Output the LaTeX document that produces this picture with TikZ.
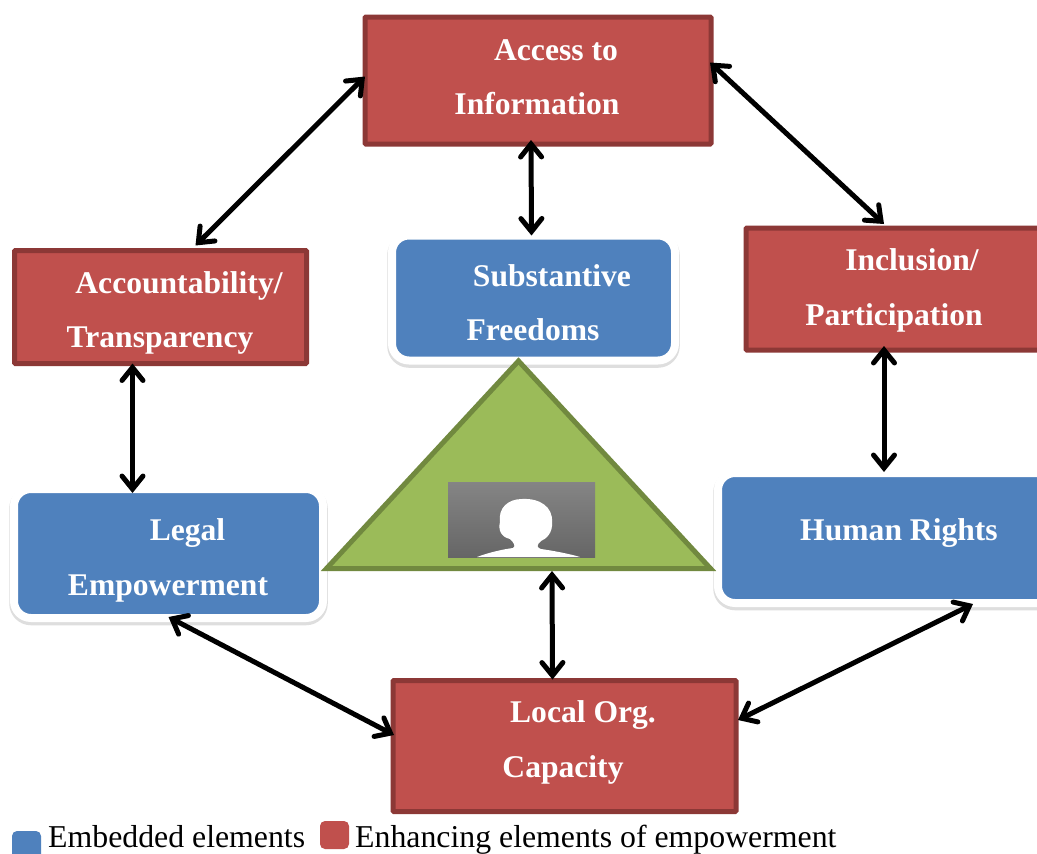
\documentclass[tikz,border=0pt]{standalone}
\usepackage{fontspec}
\setmainfont{Liberation Serif}
\usetikzlibrary{arrows.meta,calc}
\definecolor{redfill}{HTML}{C0504D}
\definecolor{redline}{HTML}{8C3836}
\definecolor{bluefill}{HTML}{4F81BD}
\definecolor{greenfill}{HTML}{9BBB59}
\definecolor{greenline}{HTML}{71893F}
% one line of text: horizontal offset (twice the shift), text, height of its baseline over the centre of the box
\newcommand{\boxline}[3]{\makebox[0pt][c]{\raisebox{#3pt}[0pt][0pt]{\hspace*{#1pt}#2}}}
\tikzset{
  boxtext/.style={text=white,font=\fontsize{31.6}{54}\selectfont\bfseries,inner sep=0pt,outer sep=0pt},
  redbox/.style={boxtext,rectangle,draw=redline,fill=redfill,line width=5pt,rounded corners=1pt},
  bluebox/.style={boxtext,rectangle,draw=white,fill=bluefill,line width=8pt,rounded corners=17pt,
    preaction={draw=black!13,line width=9.5pt,transform canvas={yshift=-2.5pt}}},
  link/.style={draw=black,line width=5pt,{Straight Barb[length=13pt,width=21pt,line cap=round]}-{Straight Barb[length=13pt,width=21pt,line cap=round]}},
  legendtext/.style={text=black,font=\fontsize{31.8}{36}\selectfont,inner sep=0pt,anchor=base west},
  legendkey/.style={rectangle,rounded corners=5pt,inner sep=0pt,minimum width=29pt,minimum height=28pt}
}
\begin{document}
\begin{tikzpicture}[x=1pt,y=-1pt]
\clip (0,0) rectangle (1037,854);
\fill[white] (0,0) rectangle (1037,854);
% boxes
\node[redbox,minimum width=346pt,minimum height=127pt] (access) at (538,80.5) {\boxline{36}{Access to}{20.5}\boxline{-2}{Information}{-33.5}};
\node[redbox,minimum width=292pt,minimum height=113pt] (account) at (160.5,307) {\boxline{37}{Accountability/}{14}\boxline{-1}{Transparency}{-40}};
\node[redbox,minimum width=320pt,minimum height=122pt] (inclusion) at (906,289) {\boxline{12}{Inclusion/}{19}\boxline{-24}{Participation}{-36}};
\node[redbox,minimum width=343pt,minimum height=131pt] (local) at (564.5,746) {\boxline{37}{Local Org.}{24}\boxline{-3}{Capacity}{-31}};
\node[bluebox,minimum width=283pt,minimum height=125pt] (subst) at (533.5,298) {\boxline{37}{Substantive}{12}\boxline{-1}{Freedoms}{-42}};
\node[bluebox,minimum width=309pt,minimum height=129pt] (legal) at (168.5,553.5) {\boxline{38}{Legal}{13.5}\boxline{-1}{Empowerment}{-41.5}};
\node[bluebox,minimum width=340pt,minimum height=130pt] (human) at (888,538) {\boxline{22}{Human Rights}{-2}};
% central triangle
\draw[fill=greenfill,draw=greenline,line width=5pt,miter limit=10] (518.5,361) -- (710.5,568.5) -- (326.5,568.5) -- cycle;
\coordinate (tribase) at (552,571);
% portrait picture
\shade[top color=black!48,bottom color=black!60] (448,482) rectangle (595,557);
\fill[white] (477,557) .. controls (490,552) and (505,549) .. (513,548)
  .. controls (516,546) and (514,543) .. (510,539)
  .. controls (501,537) and (498,530) .. (500,522)
  .. controls (498,508) and (508,499) .. (522,499)
  .. controls (540,498) and (553,507) .. (552,522)
  .. controls (553,533) and (546,539) .. (541,541)
  .. controls (536,545) and (537,548) .. (541,549)
  .. controls (555,551) and (570,554) .. (580,557) -- cycle;
% connectors
\draw[link] ($(access.west)+(0,-4)$) -- ($(account.north)+(35,-5)$);
\draw[link] ($(access.east)+(-1,-18)$) -- ($(inclusion.north)+(-22,-4)$);
\draw[link] ($(access.south)+(-7,-4)$) -- ($(subst.north)+(-2,0)$);
\draw[link] ($(account.south)+(-28,0)$) -- ($(legal.north)+(-36,4)$);
\draw[link] ($(inclusion.south)+(-22,-4)$) -- ($(human.north)+(-4,-1)$);
\draw[link] (tribase) -- ($(local.north)+(-12,-1)$);
\draw[link] ($(legal.south)+(0,-1)$) -- ($(local.west)+(1,-11)$);
\draw[link] ($(human.south)+(85,1)$) -- ($(local.east)+(2,-26)$);
% legend
\node[legendkey,fill=bluefill] (keyblue) at (26.5,845) {};
\node[legendkey,fill=redfill] (keyred) at (334.5,835) {};
\node[legendtext] (txtblue) at (48,847) {Embedded elements};
\node[legendtext] (txtred) at (355,847) {Enhancing elements of empowerment};
\end{tikzpicture}
\end{document}
